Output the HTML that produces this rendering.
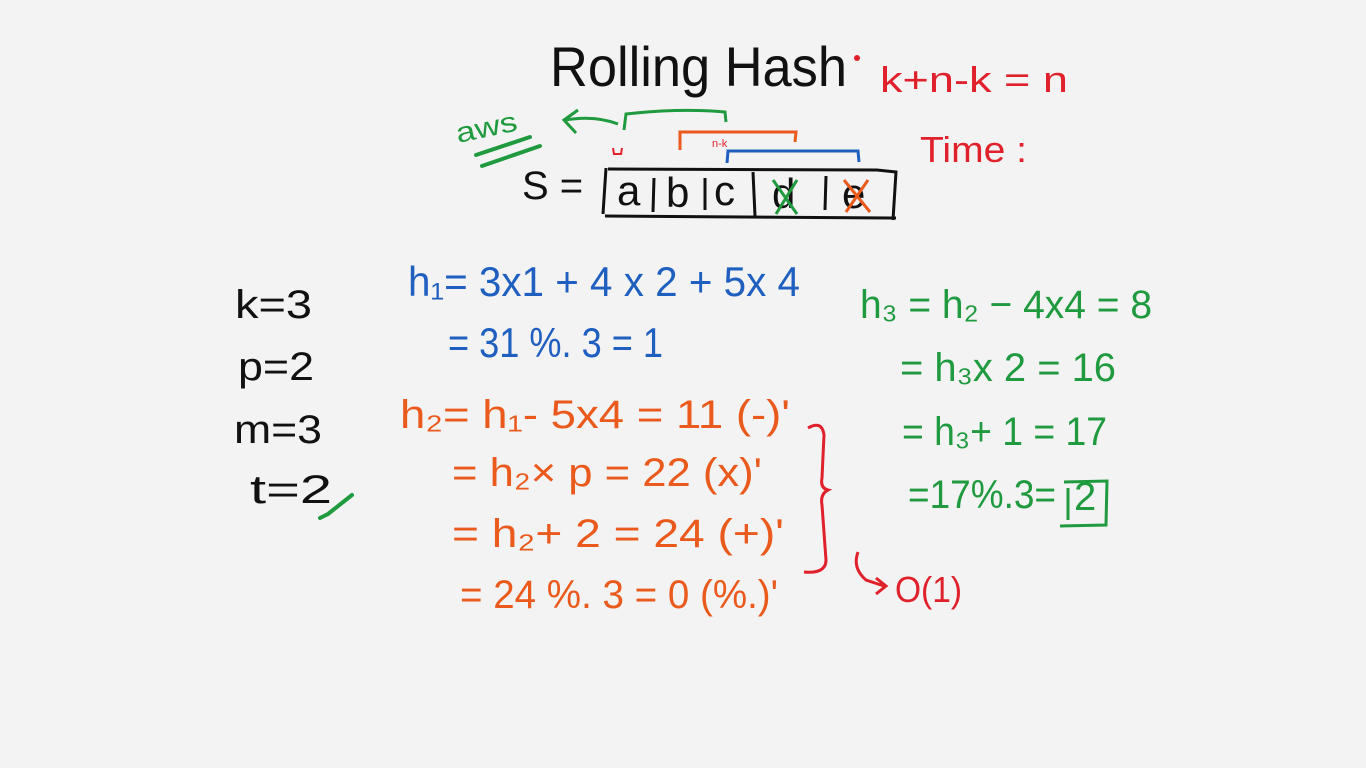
<!DOCTYPE html>
<html><head><meta charset="utf-8"><style>
html,body{margin:0;padding:0;background:#f3f3f3;}
svg{display:block}
text{font-family:"Liberation Sans",sans-serif;}
</style></head><body>
<svg width="1366" height="768" viewBox="0 0 1366 768" xmlns="http://www.w3.org/2000/svg">
<rect width="1366" height="768" fill="#f3f3f3"/>
<!-- title -->
<text x="550" y="86" font-size="56" fill="#111" textLength="297" lengthAdjust="spacingAndGlyphs">Rolling Hash</text>
<circle cx="857" cy="58" r="3" fill="#e0202a"/>
<text x="880" y="92" font-size="36" fill="#e0202a" textLength="188" lengthAdjust="spacingAndGlyphs">k+n-k = n</text>
<text x="920" y="162" font-size="36" fill="#e0202a" textLength="107" lengthAdjust="spacingAndGlyphs">Time :</text>
<!-- aws -->
<text x="458" y="143" font-size="28" fill="#1f9a3e" transform="rotate(-12 458 143)" textLength="62" lengthAdjust="spacingAndGlyphs">aws</text>
<path d="M476 155 L530 137 M482 166 L540 146" stroke="#1f9a3e" stroke-width="4" fill="none" stroke-linecap="round"/>
<!-- brackets -->
<path d="M624 130 L626 114 Q680 108 725 112 L726 122" stroke="#1f9a3e" stroke-width="3" fill="none"/>
<path d="M618 124 Q595 115 565 120 M578 110 L564 120 L576 133" stroke="#1f9a3e" stroke-width="3" fill="none"/>
<path d="M680 150 L680 132 L796 132 L795 142" stroke="#ea5a1c" stroke-width="3" fill="none"/>
<text x="712" y="147" font-size="11" fill="#e0202a">n-k</text>
<path d="M613 148 L614 154 L621 154 L622 148" stroke="#e0202a" stroke-width="2" fill="none"/>
<path d="M727 163 L728 151 L858 151 L859 162" stroke="#1f5fbf" stroke-width="3" fill="none"/>
<!-- S = array -->
<text x="522" y="199" font-size="40" fill="#111">S =</text>
<path d="M606 168 L603 214 M608 169 L877 170 L896 172 L893 220 M605 216 L896 218" stroke="#111" stroke-width="3" fill="none"/>
<path d="M654 178 L653 212 M705 178 L705 210 M753 172 L755 216 M826 176 L825 210" stroke="#111" stroke-width="3" fill="none"/>
<text x="617" y="205" font-size="42" fill="#111">a</text>
<text x="666" y="207" font-size="42" fill="#111">b</text>
<text x="714" y="205" font-size="42" fill="#111">c</text>
<text x="772" y="208" font-size="42" fill="#111">d</text>
<text x="842" y="208" font-size="42" fill="#111">e</text>
<path d="M773 180 L797 214 M797 180 L776 214" stroke="#1f9a3e" stroke-width="3" fill="none"/>
<path d="M844 180 L870 212 M868 180 L846 212" stroke="#ea5a1c" stroke-width="3" fill="none"/>
<!-- left vars -->
<g fill="#111" font-size="40">
<text x="235" y="318" textLength="77" lengthAdjust="spacingAndGlyphs">k=3</text>
<text x="238" y="380" textLength="76" lengthAdjust="spacingAndGlyphs">p=2</text>
<text x="234" y="443" textLength="88" lengthAdjust="spacingAndGlyphs">m=3</text>
<text x="250" y="503" textLength="82" lengthAdjust="spacingAndGlyphs">t=2</text>
</g>
<path d="M320 518 L328 514 L352 495" stroke="#1f9a3e" stroke-width="4" fill="none" stroke-linecap="round"/>
<!-- blue -->
<g fill="#1f5fbf" font-size="42">
<text x="408" y="296" textLength="392" lengthAdjust="spacingAndGlyphs">h₁= 3x1 + 4 x 2 + 5x 4</text>
<text x="448" y="357" textLength="215" lengthAdjust="spacingAndGlyphs">= 31 %. 3 = 1</text>
</g>
<!-- orange -->
<g fill="#ea5a1c" font-size="40">
<text x="400" y="428" textLength="390" lengthAdjust="spacingAndGlyphs">h₂= h₁- 5x4 = 11 (-)'</text>
<text x="452" y="486" textLength="310" lengthAdjust="spacingAndGlyphs">= h₂× p = 22  (x)'</text>
<text x="452" y="547" textLength="332" lengthAdjust="spacingAndGlyphs">= h₂+ 2 = 24  (+)'</text>
<text x="460" y="608" textLength="318" lengthAdjust="spacingAndGlyphs">= 24 %. 3 = 0  (%.)'</text>
</g>
<path d="M808 428 Q822 420 824 435 L822 478 Q820 488 828 490 Q820 494 822 505 L826 560 Q826 574 804 572" stroke="#e0202a" stroke-width="3" fill="none"/>
<path d="M858 552 Q852 568 866 580 L884 586 M876 578 L886 586 L876 594" stroke="#e0202a" stroke-width="3" fill="none"/>
<text x="895" y="602" font-size="36" fill="#e0202a" textLength="67" lengthAdjust="spacingAndGlyphs">O(1)</text>
<!-- green -->
<g fill="#1f9a3e" font-size="40">
<text x="860" y="318" textLength="292" lengthAdjust="spacingAndGlyphs">h₃ = h₂ − 4x4 = 8</text>
<text x="900" y="381" textLength="216" lengthAdjust="spacingAndGlyphs">= h₃x 2 = 16</text>
<text x="902" y="445" textLength="205" lengthAdjust="spacingAndGlyphs">= h₃+ 1 = 17</text>
<text x="908" y="508" textLength="148" lengthAdjust="spacingAndGlyphs">=17%.3=</text>
<text x="1074" y="510">2</text>
</g>
<path d="M1068 488 L1068 520 M1064 482 L1107 481 L1106 525 L1060 526" stroke="#1f9a3e" stroke-width="3" fill="none"/>
</svg>
</body></html>
